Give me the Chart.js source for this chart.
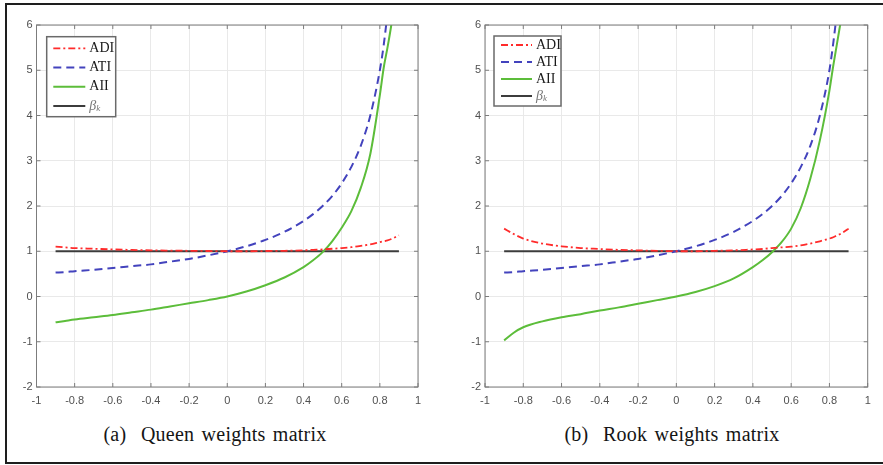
<!DOCTYPE html>
<html lang="en">
<head>
    <meta charset="utf-8" />
    <title>ADI ATI AII</title>
    <script src="https://cdn.jsdelivr.net/npm/chart.js"></script>
    <style>
        html, body { margin: 0; padding: 0; background: #fff; width: 883px; height: 465px; overflow: hidden; }
        #frame { position: absolute; left: 5px; top: 3px; width: 900px; height: 457px; border: 2px solid #1e1e1e; border-right: none; }
        canvas { position: absolute; top: 0; }
        .caption { position: absolute; top: 423px; font-family: "Liberation Serif", serif; font-size: 20px; color: #151515; transform: translateX(-50%); white-space: nowrap; word-spacing: 2px; letter-spacing: 0.25px; }
    </style>
</head>
<body>
    <div id="frame"></div>
    <canvas id="queen" width="440" height="410" style="left:0px"></canvas>
    <canvas id="rook" width="443" height="410" style="left:440px"></canvas>
    <div class="caption" style="left:215px">(a)&nbsp; Queen weights matrix</div>
    <div class="caption" style="left:672px">(b)&nbsp; Rook weights matrix</div>

    <script>
        // valores (rho no eixo x)
        const rho = [-0.9, -0.85, -0.8, -0.7, -0.6, -0.5, -0.4, -0.3, -0.2, -0.1, 0, 0.1, 0.2, 0.3, 0.4, 0.45, 0.5, 0.55, 0.6, 0.65, 0.7, 0.75, 0.8, 0.82, 0.84, 0.86, 0.88, 0.9];

        const queenADI = [1.10, 1.085, 1.07, 1.055, 1.04, 1.03, 1.02, 1.015, 1.01, 1.005, 1.0, 1.0, 1.005, 1.01, 1.02, 1.03, 1.04, 1.055, 1.07, 1.09, 1.12, 1.15, 1.2, 1.22, 1.24, 1.27, 1.31, 1.35];
        const queenATI = [0.53, 0.54, 0.56, 0.59, 0.63, 0.67, 0.71, 0.77, 0.83, 0.91, 1.0, 1.11, 1.25, 1.43, 1.67, 1.82, 2.0, 2.22, 2.5, 2.86, 3.33, 4.0, 5.0, 5.55, 6.25, null, null, null];
        const queenAII = [-0.57, -0.54, -0.51, -0.46, -0.41, -0.35, -0.29, -0.22, -0.15, -0.08, 0, 0.11, 0.25, 0.42, 0.65, 0.8, 0.98, 1.22, 1.52, 1.88, 2.4, 3.15, 4.45, 5.05, 5.5, 6.0, 6.6, null];

        const rookADI = [1.5, 1.38, 1.28, 1.17, 1.11, 1.07, 1.05, 1.03, 1.02, 1.01, 1.0, 1.0, 1.01, 1.02, 1.04, 1.05, 1.07, 1.085, 1.1, 1.13, 1.17, 1.22, 1.28, 1.31, 1.35, 1.39, 1.44, 1.5];
        const rookATI = [0.53, 0.54, 0.56, 0.59, 0.63, 0.67, 0.71, 0.77, 0.83, 0.91, 1.0, 1.11, 1.25, 1.43, 1.67, 1.82, 2.0, 2.22, 2.5, 2.86, 3.33, 4.0, 5.0, 5.6, 6.3, null, null, null];
        const rookAII = [-0.97, -0.8, -0.68, -0.55, -0.46, -0.39, -0.31, -0.24, -0.16, -0.08, 0, 0.1, 0.23, 0.4, 0.65, 0.8, 0.98, 1.2, 1.5, 1.95, 2.6, 3.45, 4.55, 5.1, 5.6, 6.1, 6.6, null];

        const betaRho = [-0.9, 0.9];
        const betaK = [1, 1];

        const xTicks = [-1, -0.8, -0.6, -0.4, -0.2, 0, 0.2, 0.4, 0.6, 0.8, 1];
        const yTicks = [-2, -1, 0, 1, 2, 3, 4, 5, 6];

        function pares(xs, ys) {
            const out = [];
            xs.forEach((x, i) => { if (ys[i] !== null) out.push({ x: x, y: ys[i] }); });
            return out;
        }

        // caixa do eixo estilo matlab, com ticks para dentro
        const caixaEixo = {
            id: 'caixaEixo',
            afterDatasetsDraw(chart) {
                const ctx = chart.ctx;
                const a = chart.chartArea;
                const sx = chart.scales.x, sy = chart.scales.y;
                ctx.save();
                ctx.strokeStyle = '#7c7c7c';
                ctx.lineWidth = 1;
                ctx.strokeRect(a.left, a.top, a.right - a.left, a.bottom - a.top);
                ctx.beginPath();
                sx.ticks.forEach(t => {
                    const px = sx.getPixelForValue(t.value);
                    ctx.moveTo(px, a.bottom); ctx.lineTo(px, a.bottom - 4);
                    ctx.moveTo(px, a.top); ctx.lineTo(px, a.top + 4);
                });
                sy.ticks.forEach(t => {
                    const py = sy.getPixelForValue(t.value);
                    ctx.moveTo(a.left, py); ctx.lineTo(a.left + 4, py);
                    ctx.moveTo(a.right, py); ctx.lineTo(a.right - 4, py);
                });
                ctx.stroke();
                ctx.restore();
            }
        };

        // legenda com moldura desenhada a mao
        const legendaCaixa = {
            id: 'legendaCaixa',
            afterDraw(chart, args, o) {
                const ctx = chart.ctx;
                ctx.save();
                ctx.fillStyle = '#fff';
                ctx.fillRect(o.x, o.y, o.w, o.h);
                ctx.strokeStyle = '#6a6a6a';
                ctx.lineWidth = 1.5;
                ctx.strokeRect(o.x, o.y, o.w, o.h);
                chart.data.datasets.forEach((ds, i) => {
                    const y = o.y + o.first + i * o.step;
                    ctx.strokeStyle = ds.borderColor;
                    ctx.lineWidth = ds.borderWidth;
                    ctx.setLineDash(ds.borderDash || []);
                    ctx.beginPath();
                    ctx.moveTo(o.x + o.lineX, y);
                    ctx.lineTo(o.x + o.lineX + o.lineLen, y);
                    ctx.stroke();
                    ctx.setLineDash([]);
                    ctx.textBaseline = 'middle';
                    ctx.textAlign = 'left';
                    const tx = o.x + o.textX;
                    if (ds.label.indexOf('_') > 0) {
                        const partes = ds.label.split('_');
                        ctx.fillStyle = '#777';
                        ctx.font = 'italic 14px "Liberation Serif"';
                        ctx.fillText(partes[0], tx, y);
                        const w = ctx.measureText(partes[0]).width;
                        ctx.font = 'italic 9px "Liberation Serif"';
                        ctx.fillText(partes[1], tx + w, y + 3);
                    } else {
                        ctx.fillStyle = '#1a1a1a';
                        ctx.font = '14px "Liberation Serif"';
                        ctx.fillText(ds.label, tx, y);
                    }
                });
                ctx.restore();
            }
        };

        function montarGrafico(canvasId, adi, ati, aii, cfg) {
            const ctx = document.getElementById(canvasId).getContext('2d');
            const fonteTick = { family: '"Liberation Sans", Arial, sans-serif', size: 11 };
            return new Chart(ctx, {
                type: 'line',
                data: {
                    datasets: [
                        { label: 'ADI', data: pares(rho, adi), borderColor: '#ff2b2b', borderWidth: 1.8, borderDash: [7, 3, 2, 3] },
                        { label: 'ATI', data: pares(rho, ati), borderColor: '#4343bd', borderWidth: 2, borderDash: [8, 5] },
                        { label: 'AII', data: pares(rho, aii), borderColor: '#5cbd3a', borderWidth: 2 },
                        { label: 'β_k', data: pares(betaRho, betaK), borderColor: '#3c3c3c', borderWidth: 2 }
                    ]
                },
                options: {
                    responsive: false,
                    devicePixelRatio: 1,
                    animation: false,
                    layout: { padding: cfg.padding },
                    elements: {
                        point: { radius: 0 },
                        line: { cubicInterpolationMode: 'monotone', fill: false }
                    },
                    datasets: { line: { clip: 0 } },
                    scales: {
                        x: {
                            type: 'linear', min: -1, max: 1,
                            afterBuildTicks: s => { s.ticks = xTicks.map(v => ({ value: v })); },
                            afterFit: s => { s.height = 23; },
                            ticks: {
                                callback: v => String(Math.round(v * 10) / 10),
                                font: fonteTick, color: '#505050', padding: 7, maxRotation: 0, autoSkip: false
                            },
                            grid: { color: '#e9e9e9', drawTicks: false },
                            border: { display: false }
                        },
                        y: {
                            type: 'linear', min: -2, max: 6,
                            afterBuildTicks: s => { s.ticks = yTicks.map(v => ({ value: v })); },
                            afterFit: s => { s.width = cfg.yWidth; },
                            ticks: { font: fonteTick, color: '#505050', padding: 4, autoSkip: false },
                            grid: { color: '#e9e9e9', drawTicks: false },
                            border: { display: false }
                        }
                    },
                    plugins: {
                        legend: { display: false },
                        tooltip: { enabled: false },
                        legendaCaixa: cfg.legenda
                    }
                },
                plugins: [caixaEixo, legendaCaixa]
            });
        }

        montarGrafico('queen', queenADI, queenATI, queenAII, {
            padding: { top: 25, right: 22, left: 0, bottom: 0 },
            yWidth: 36.5,
            legenda: { x: 46.7, y: 36.7, w: 69, h: 80, first: 11.6, step: 19.2, lineX: 6.6, lineLen: 32, textX: 42.6 }
        });

        montarGrafico('rook', rookADI, rookATI, rookAII, {
            padding: { top: 25, right: 15.3, left: 0, bottom: 0 },
            yWidth: 45,
            legenda: { x: 54, y: 36, w: 67, h: 70, first: 9, step: 17, lineX: 7, lineLen: 31, textX: 42 }
        });
    </script>
</body>
</html>
